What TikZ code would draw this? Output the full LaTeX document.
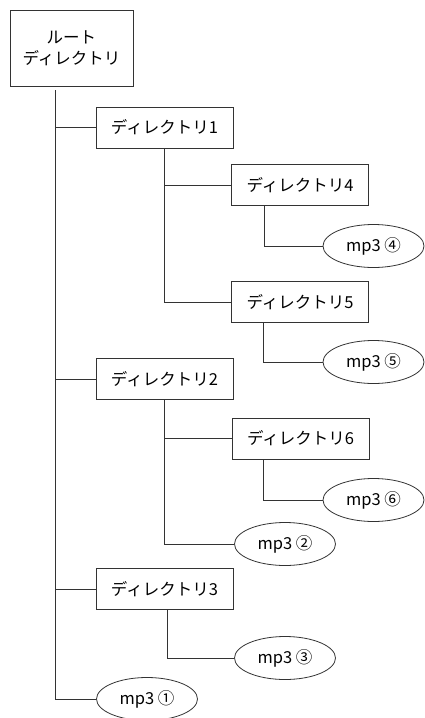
\documentclass[tikz,border=0pt]{standalone}
\usepackage{fontspec}
\setmainfont{Noto Sans CJK JP}
\usepackage{tikz}
\usetikzlibrary{shapes.geometric}

\begin{document}
\begin{tikzpicture}[x=1pt, y=-1pt,
		treeline/.style={draw=black!80, line width=.8pt},
		dirbox/.style={draw=black!80, line width=.8pt, minimum width=137pt, minimum height=41pt, inner sep=0pt, font=\fontsize{16.5}{21}\selectfont},
		mpfile/.style={draw=black!80, line width=.8pt, ellipse, minimum width=101pt, minimum height=43pt, inner sep=0pt, font=\fontsize{16.5}{21}\selectfont}]
		\useasboundingbox (0,0) rectangle (424,718);
		
		\node[dirbox, minimum width=123pt, minimum height=76pt, align=center] (root) at (71.5,48) {ルート\\ディレクトリ};
		
		\node[dirbox] (d1) at (164.5,127.5) {ディレクトリ1};
		\node[dirbox] (d4) at (300,185) {ディレクトリ4};
		\node[mpfile] (f4) at (373.5,246) {mp3 ④};
		\node[dirbox] (d5) at (300,302) {ディレクトリ5};
		\node[mpfile] (f5) at (373.5,362) {mp3 ⑤};
		
		\node[dirbox] (d2) at (164.5,379) {ディレクトリ2};
		\node[dirbox] (d6) at (300.5,438.5) {ディレクトリ6};
		\node[mpfile] (f6) at (373.5,500) {mp3 ⑥};
		\node[mpfile] (f2) at (285,544) {mp3 ②};
		
		\node[dirbox] (d3) at (164.5,589) {ディレクトリ3};
		\node[mpfile] (f3) at (285,658) {mp3 ③};
		
		\node[mpfile] (f1) at (147,699) {mp3 ①};
		
		%========================================================================
		% Lines
		\coordinate (rt) at ([xshift=46pt, yshift=-4pt]root.south west);
		\draw[treeline] (rt) |- (d1.west);
		\draw[treeline] (rt) |- (d2.west);
		\draw[treeline] (rt) |- (d3.west);
		\draw[treeline] (rt) |- (f1.west);
		\draw[treeline] (d1.south) |- (d4.west);
		\draw[treeline] (d1.south) |- (d5.west);
		\draw[treeline] ([xshift=33pt]d4.south west) |- (f4.west);
		\draw[treeline] ([xshift=32pt]d5.south west) |- (f5.west);
		\draw[treeline] (d2.south) |- (d6.west);
		\draw[treeline] (d2.south) |- (f2.west);
		\draw[treeline] ([xshift=32pt]d6.south west) |- (f6.west);
		\draw[treeline] ([xshift=3pt]d3.south) |- (f3.west);
	\end{tikzpicture}
\end{document}
